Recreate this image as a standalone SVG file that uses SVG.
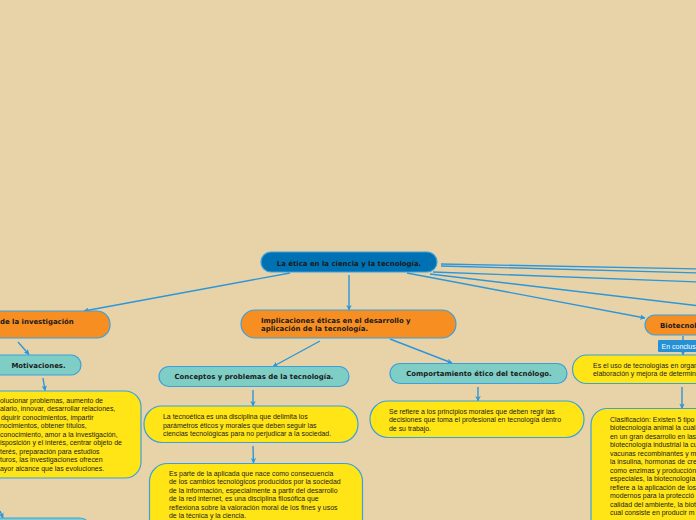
<svg xmlns="http://www.w3.org/2000/svg" width="696" height="520" viewBox="0 0 696 520">
<defs>
<marker id="ah" viewBox="0 0 10 10" refX="9" refY="5" markerWidth="5.5" markerHeight="5.5" markerUnits="userSpaceOnUse" orient="auto">
<path d="M0,0 L10,5 L0,10 L2.5,5 Z" fill="#2B96DC"/>
</marker>
<style>
.bg{fill:#E8D3A8}
.ln{stroke:#2B96DC;stroke-width:1.4;fill:none}
.ar{stroke:#2B96DC;stroke-width:1.4;fill:none;marker-end:url(#ah)}
.root{fill:#0072B4;stroke:#3AA0DE;stroke-width:1.2}
.or{fill:#F68E22;stroke:#3AA0DE;stroke-width:1.2}
.te{fill:#7FCEC6;stroke:#3AA0DE;stroke-width:1.2}
.ye{fill:#FFE516;stroke:#3AA0DE;stroke-width:1.2}
.lab{fill:#2491D6}
.b{font-family:"DejaVu Sans",Verdana,sans-serif;font-weight:bold;font-size:6.95px;fill:#1a1a1a}
.t{font-family:"Liberation Sans",Arial,sans-serif;font-size:6.95px;fill:#1a1a1a}
.w{font-family:"Liberation Sans",Arial,sans-serif;font-size:7px;fill:#ffffff}
.c{text-anchor:middle}
</style>
</defs>
<rect class="bg" x="0" y="0" width="696" height="520"/>

<g id="connectors">
<path class="ar" d="M290,273 L84,311"/>
<path class="ar" d="M349,275 L349,310"/>
<path class="ar" d="M407,273 L645,318"/>
<path class="ln" d="M441,264 L700,269"/>
<path class="ln" d="M441,266 L700,273"/>
<path class="ln" d="M433,272 L700,282"/>
<path class="ln" d="M430,274 L700,306"/>
<path class="ar" d="M18,342 L29,354.5"/>
<path class="ar" d="M43,378 L45,390.5"/>
<path class="ar" d="M320,341 L273,366.5"/>
<path class="ar" d="M390,339 L452,363"/>
<path class="ar" d="M253,390 L253,406"/>
<path class="ar" d="M253,446 L253.5,463"/>
<path class="ar" d="M478,387 L478,401"/>
<path class="ar" d="M683,336 L683,355"/>
<path class="ar" d="M682,387 L682,408.5"/>
<path class="ar" d="M0,511 L3,518"/>
</g>

<g id="root">
<rect class="root" x="261" y="252" width="176" height="20" rx="10"/>
<text class="b c" x="349" y="265.5">La ética en la ciencia y la tecnología.</text>
</g>

<g id="n-investigacion">
<rect class="or" x="-30" y="311" width="140" height="27" rx="13"/>
<text class="b" x="0" y="323.5">de la investigación</text>
</g>

<g id="n-motivaciones">
<rect class="te" x="-30" y="355" width="111" height="20" rx="10"/>
<text class="b c" x="38.5" y="368">Motivaciones.</text>
</g>

<g id="n-motivaciones-texto">
<rect class="ye" x="-30" y="391" width="171" height="87" rx="16"/>
<text class="t" x="0" y="402.5">olucionar problemas, aumento de</text>
<text class="t" x="0" y="411">alario, innovar, desarrollar relaciones,</text>
<text class="t" x="1" y="419.5">dquirir conocimientos, impartir</text>
<text class="t" x="0" y="428">nocimientos, obtener títulos,</text>
<text class="t" x="0" y="436.5">conocimiento, amor a la investigación,</text>
<text class="t" x="0" y="445">isposición y el interés, centrar objeto de</text>
<text class="t" x="0" y="453.5">terés, preparación para estudios</text>
<text class="t" x="0" y="462">turos, las investigaciones ofrecen</text>
<text class="t" x="0" y="470.5">ayor alcance que las evoluciones.</text>
</g>

<g id="n-bottom-left">
<rect class="te" x="-30" y="518" width="120" height="20" rx="10"/>
</g>

<g id="n-implicaciones">
<rect class="or" x="241" y="310" width="215" height="28" rx="14"/>
<text class="b" x="261" y="322.5">Implicaciones éticas en el desarrollo y</text>
<text class="b" x="261" y="331.2">aplicación de la tecnología.</text>
</g>

<g id="n-conceptos">
<rect class="te" x="159" y="366.5" width="190" height="20" rx="10"/>
<text class="b c" x="254" y="379">Conceptos y problemas de la tecnología.</text>
</g>

<g id="n-tecnoetica">
<rect class="ye" x="144" y="406" width="214" height="36.5" rx="18"/>
<text class="t" x="163" y="419">La tecnoética es una disciplina que delimita los</text>
<text class="t" x="163" y="427.5">parámetros éticos y morales que deben seguir las</text>
<text class="t" x="163" y="436">ciencias tecnológicas para no perjudicar a la sociedad.</text>
</g>

<g id="n-es-parte">
<rect class="ye" x="149.5" y="463.5" width="213" height="80" rx="18"/>
<text class="t" x="169" y="475.7">Es parte de la aplicada que nace como consecuencia</text>
<text class="t" x="169" y="484.2">de los cambios tecnológicos producidos por la sociedad</text>
<text class="t" x="169" y="492.8">de la información, especialmente a partir del desarrollo</text>
<text class="t" x="169" y="501.3">de la red internet, es una disciplina filosófica que</text>
<text class="t" x="169" y="509.8">reflexiona sobre la valoración moral de los fines y usos</text>
<text class="t" x="169" y="518.3">de la técnica y la ciencia.</text>
</g>

<g id="n-comportamiento">
<rect class="te" x="390" y="363.5" width="177" height="20" rx="10"/>
<text class="b c" x="479" y="376">Comportamiento ético del tecnólogo.</text>
</g>

<g id="n-se-refiere">
<rect class="ye" x="370" y="401" width="214" height="36.5" rx="18"/>
<text class="t" x="389" y="413.7">Se refiere a los principios morales que deben regir las</text>
<text class="t" x="389" y="422.2">decisiones que toma el profesional en tecnología dentro</text>
<text class="t" x="389" y="430.8">de su trabajo.</text>
</g>

<g id="n-biotecnologia">
<rect class="or" x="645" y="315" width="80" height="20" rx="10"/>
<text class="b" x="660" y="328">Biotecnol</text>
</g>

<g id="l-en-conclusion">
<rect class="lab" x="658" y="340" width="50" height="12" rx="1"/>
<text class="w" x="661.5" y="348.5">En conclus</text>
</g>

<g id="n-es-el-uso">
<rect class="ye" x="572.5" y="355" width="150" height="28.5" rx="14"/>
<text class="t" x="593" y="368.2">Es el uso de tecnologías en organ</text>
<text class="t" x="593" y="375.8">elaboración y mejora de determin</text>
</g>

<g id="n-clasificacion">
<rect class="ye" x="591" y="408.5" width="130" height="130" rx="16"/>
<text class="t" x="610" y="421.7">Clasificación: Existen 5 tipo</text>
<text class="t" x="610" y="430.2">biotecnología animal la cual</text>
<text class="t" x="610" y="438.7">en un gran desarrollo en las</text>
<text class="t" x="610" y="447.2">biotecnología industrial la cu</text>
<text class="t" x="610" y="455.7">vacunas recombinantes y m</text>
<text class="t" x="610" y="464.2">la insulina, hormonas de cre</text>
<text class="t" x="610" y="472.7">como enzimas y producción</text>
<text class="t" x="610" y="481.2">especiales, la biotecnología</text>
<text class="t" x="610" y="489.7">refiere a la aplicación de los</text>
<text class="t" x="610" y="498.2">modernos para la protecció</text>
<text class="t" x="610" y="506.7">calidad del ambiente, la biot</text>
<text class="t" x="610" y="515.2">cual consiste en producir m</text>
</g>
</svg>
